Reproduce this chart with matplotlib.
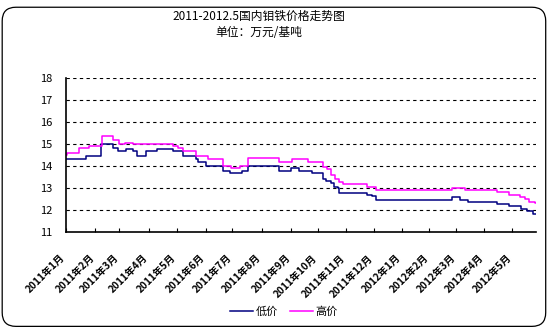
import matplotlib
matplotlib.use("Agg")
import matplotlib.pyplot as plt
import matplotlib.transforms as mtransforms
from matplotlib.patches import FancyBboxPatch

plt.rcParams['font.family'] = ['Noto Sans CJK SC', 'DejaVu Sans']

# Month labels and the trading-day index where each month begins
months = ["2011年1月", "2011年2月", "2011年3月", "2011年4月", "2011年5月", "2011年6月",
          "2011年7月", "2011年8月", "2011年9月", "2011年10月", "2011年11月", "2011年12月",
          "2012年1月", "2012年2月", "2012年3月", "2012年4月", "2012年5月"]
month_start = [0, 22, 40, 62, 83, 105, 125, 147, 169, 189, 210, 231, 252, 273, 293, 314, 335]
last_day = 353

# Low price (万元/基吨): trading day where each level begins, and the level
low_x = [0, 15, 26, 35, 39, 45, 50, 53, 60, 68, 80, 88, 98, 99, 105, 118, 123, 132, 137,
         160, 169, 175, 185, 193, 195, 199, 201, 204, 205, 226, 230, 233, 290, 296, 302,
         324, 333, 342, 346, 351]
low_y = [14.3, 14.45, 15.0, 14.8, 14.7, 14.78, 14.7, 14.45, 14.7, 14.78, 14.7, 14.45, 14.3,
         14.2, 14.0, 13.78, 13.68, 13.78, 14.0, 13.78, 13.9, 13.78, 13.68, 13.4, 13.3, 13.22,
         13.06, 13.0, 12.78, 12.7, 12.62, 12.45, 12.6, 12.45, 12.36, 12.27, 12.18, 12.05,
         11.95, 11.8]

# High price (万元/基吨)
high_x = [0, 1, 10, 17, 27, 35, 40, 44, 50, 80, 84, 88, 98, 107, 118, 124, 131, 137, 160,
          170, 182, 193, 196, 199, 202, 205, 208, 226, 233, 290, 300, 324, 333, 341, 345,
          348, 352]
high_y = [14.5, 14.6, 14.8, 14.9, 15.35, 15.2, 15.0, 15.05, 15.0, 14.9, 14.8, 14.7, 14.45,
          14.3, 14.0, 13.9, 14.0, 14.35, 14.2, 14.3, 14.2, 13.95, 13.85, 13.6, 13.4, 13.27,
          13.2, 13.05, 12.92, 13.0, 12.92, 12.8, 12.7, 12.6, 12.5, 12.38, 12.3]

fig = plt.figure(figsize=(5.49, 3.29), dpi=100)
fig.patch.set_facecolor('white')

# rounded outer frame
frame = FancyBboxPatch((0.004, 0.008), 0.99, 0.97, boxstyle="round,pad=0,rounding_size=0.025",
                       transform=fig.transFigure, fill=False, edgecolor='black', linewidth=0.9,
                       mutation_aspect=549 / 329)
fig.patches.append(frame)

ax = fig.add_axes([66 / 549, 1 - 232 / 329, 470 / 549, 154 / 329])

ax.plot(low_x + [last_day], low_y + [low_y[-1]], drawstyle='steps-post',
        color='#000080', linewidth=1.1, label='低价')
ax.plot(high_x + [last_day], high_y + [high_y[-1]], drawstyle='steps-post',
        color='#FF00FF', linewidth=1.1, label='高价')

ax.set_xlim(0, last_day)
ax.set_ylim(11, 18)
ax.set_yticks(range(11, 19))
ax.tick_params(axis='y', length=0, labelsize=8, pad=10)
for y in range(12, 19):
    ax.axhline(y, color='black', linewidth=0.8, linestyle=(0, (3, 3)), zorder=0)

ax.set_xticks(month_start)
ax.set_xticklabels(months, rotation=45, ha='right', va='top', rotation_mode='anchor',
                   fontsize=7.2, fontweight='bold')
ax.tick_params(axis='x', direction='in', length=3, pad=15)
shift = mtransforms.ScaledTranslation(-6 / 100, 0, fig.dpi_scale_trans)
for lbl in ax.get_xticklabels():
    lbl.set_transform(lbl.get_transform() + shift)

for s in ['top', 'right']:
    ax.spines[s].set_visible(False)
for s in ['left', 'bottom']:
    ax.spines[s].set_linewidth(1.2)

fig.text(259 / 549, 1 - 16 / 329, "2011-2012.5国内钼铁价格走势图", ha='center', va='center', fontsize=8.5)
fig.text(259 / 549, 1 - 32 / 329, "单位：万元/基吨", ha='center', va='center', fontsize=8.5)

fig.legend(loc='center', bbox_to_anchor=(284 / 549, 1 - 312 / 329), ncol=2, frameon=False,
           fontsize=8, handlelength=2.1, columnspacing=1.1, handletextpad=0.2)

fig.savefig("out.png", dpi=100)
